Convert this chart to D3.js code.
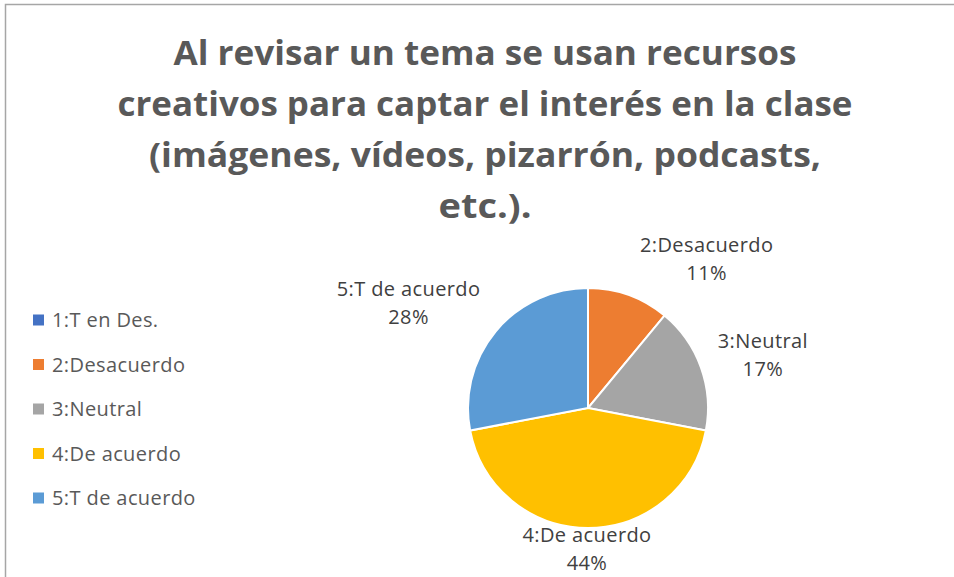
<!DOCTYPE html>
<html>
<head>
<meta charset="utf-8">
<script src="https://cdn.jsdelivr.net/npm/d3@7"></script>
<style>
  body { margin: 0; background: #fff; }
  svg { display: block; font-family: "Open Sans", "Noto Sans", sans-serif; }
</style>
</head>
<body>
<div id="container"></div>
<script>
/* DATA */
const categories = ["1:T en Des.", "2:Desacuerdo", "3:Neutral", "4:De acuerdo", "5:T de acuerdo"]
const percents = [0, 11, 17, 44, 28]
const colors = ["#4472C4", "#ED7D31", "#A5A5A5", "#FFC000", "#5B9BD5"]
const titleLines = [
  "Al revisar un tema se usan recursos",
  "creativos para captar el interés en la clase",
  "(imágenes, vídeos, pizarrón, podcasts,",
  "etc.)."
]

/* LAYOUT */
const width = 954, height = 577
const cx = 588, cy = 408, radius = 120
// label offsets from the slice's outer mid point (Excel "best fit" look)
const labelShift = [null, [78, -29], [62, -5], [-1, 28], [-87, -22]]
const titleWidths = [623, 735, 672, 93]

const svg = d3.select("#container")
  .append("svg")
  .attr("width", width)
  .attr("height", height)

// chart area border (runs off right and bottom)
svg.append("rect")
  .attr("x", 5.5).attr("y", 4.5)
  .attr("width", width + 20).attr("height", height + 20)
  .attr("fill", "none")
  .attr("stroke", "#a6a6a6")
  .attr("stroke-width", 1.5)

// title
svg.append("g")
  .selectAll("text")
  .data(titleLines)
  .join("text")
  .attr("x", 485)
  .attr("y", (_, i) => 65 + i * 51)
  .attr("text-anchor", "middle")
  .attr("textLength", (_, i) => titleWidths[i])
  .attr("lengthAdjust", "spacingAndGlyphs")
  .style("font-size", "34px")
  .style("font-weight", "bold")
  .attr("fill", "#595959")
  .text(d => d)

// pie
const data = categories.map((c, i) => ({ cat: c, value: percents[i], color: colors[i], i }))
const pie = d3.pie().value(d => d.value).sort(null)
const arc = d3.arc().innerRadius(0).outerRadius(radius)
const edge = d3.arc().innerRadius(radius).outerRadius(radius)
const arcs = pie(data)

const g = svg.append("g").attr("transform", `translate(${cx},${cy})`)
g.selectAll("path")
  .data(arcs.filter(d => d.data.value > 0))
  .join("path")
  .attr("d", arc)
  .attr("fill", d => d.data.color)
  .attr("stroke", "#fff")
  .attr("stroke-width", 2)

// data labels
const labels = g.selectAll(".lbl")
  .data(arcs.filter(d => d.data.value > 0))
  .join("text")
  .attr("class", "lbl")
  .attr("text-anchor", "middle")
  .attr("fill", "#404040")
  .style("font-size", "20px")
  .style("letter-spacing", "0.4px")
  .attr("transform", d => {
    const p = edge.centroid(d), s = labelShift[d.data.i]
    return `translate(${p[0] + s[0]},${p[1] + s[1]})`
  })
labels.append("tspan").attr("x", 0).attr("y", -14).text(d => d.data.cat)
labels.append("tspan").attr("x", 0).attr("y", 14).text(d => d.data.value + "%")

// legend
const legend = svg.append("g")
  .selectAll("g")
  .data(data)
  .join("g")
  .attr("transform", (_, i) => `translate(33,${320 + i * 44.5})`)
legend.append("rect")
  .attr("x", 0).attr("y", -5.5)
  .attr("width", 11).attr("height", 11)
  .attr("fill", d => d.color)
legend.append("text")
  .attr("x", 19)
  .attr("y", 7)
  .attr("fill", "#595959")
  .style("font-size", "20px")
  .style("letter-spacing", "0.4px")
  .text(d => d.cat)
</script>
</body>
</html>
